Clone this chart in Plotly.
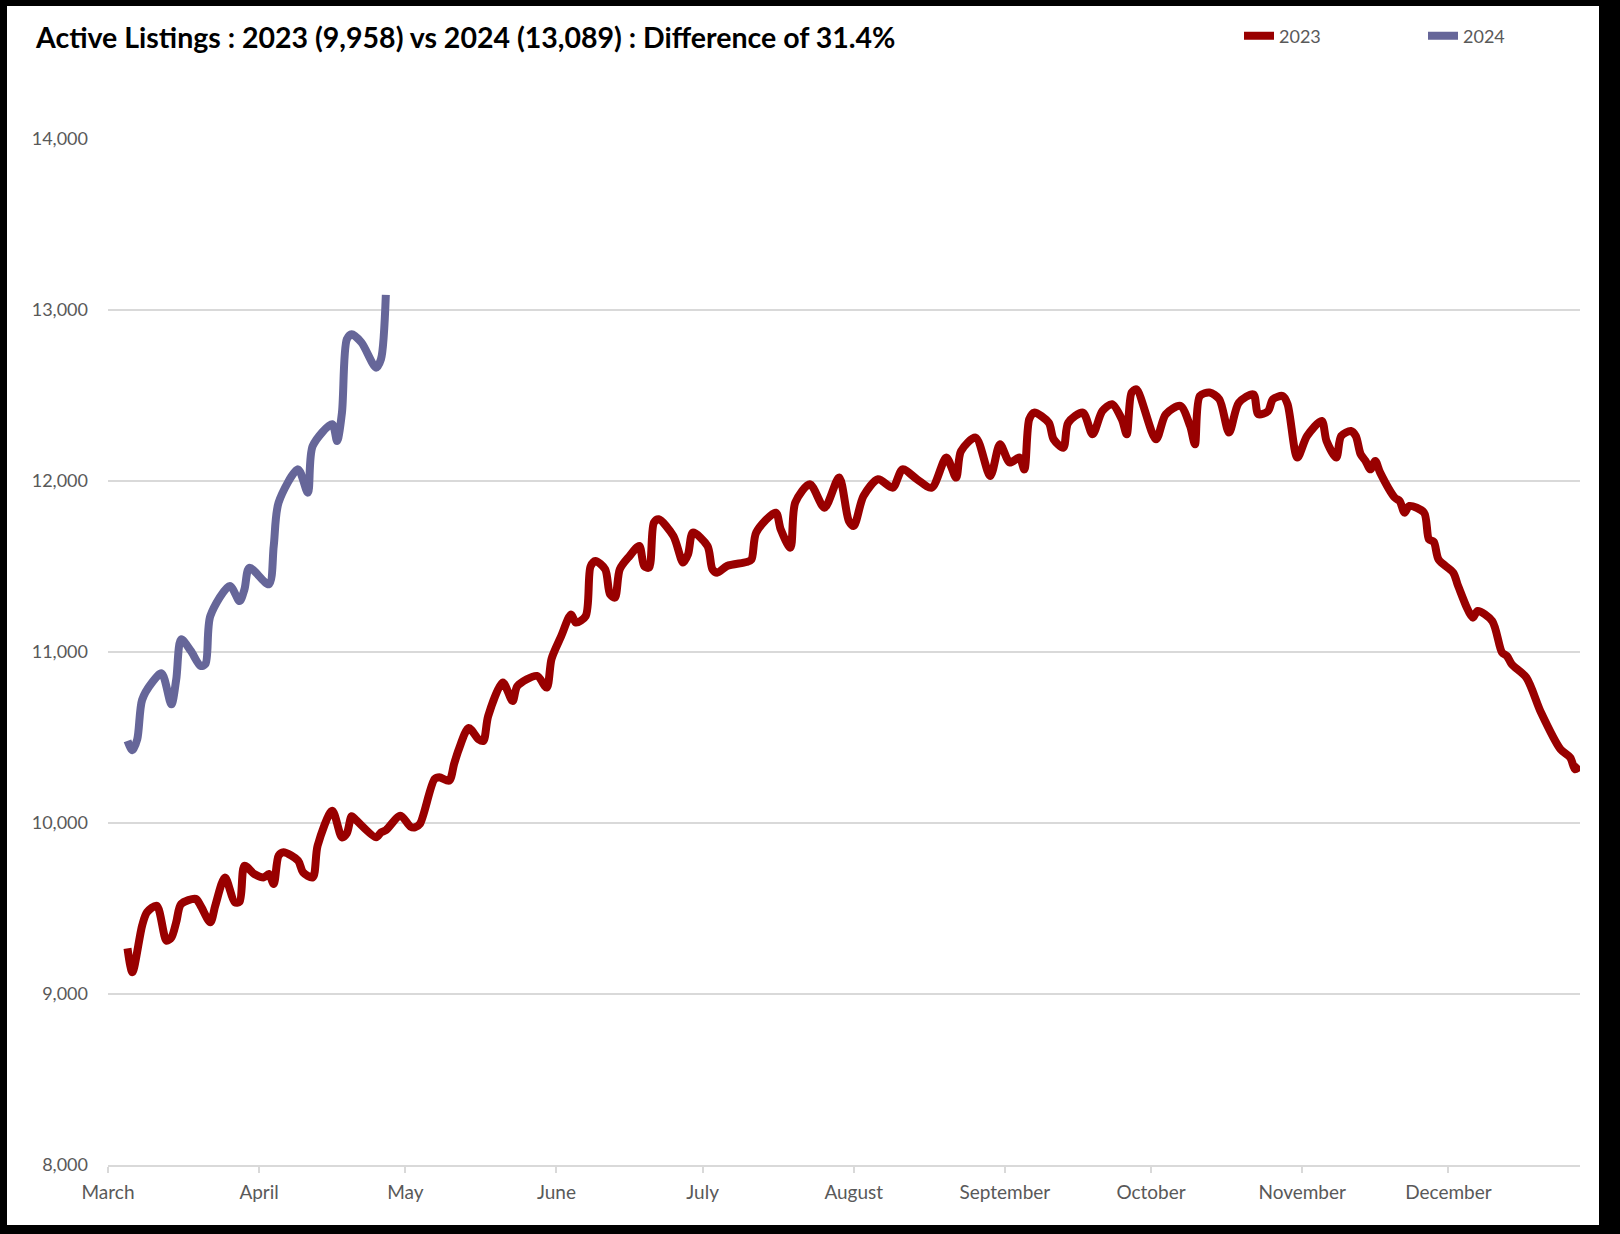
import plotly.graph_objects as go

# ---------------- data ----------------
dates_2023 = [
    "2023-03-05", "2023-03-06", "2023-03-08", "2023-03-09", "2023-03-11", "2023-03-13", "2023-03-14",
    "2023-03-15", "2023-03-16", "2023-03-19", "2023-03-20", "2023-03-22", "2023-03-23", "2023-03-25",
    "2023-03-27", "2023-03-28", "2023-03-29", "2023-03-31", "2023-04-02", "2023-04-03", "2023-04-04",
    "2023-04-05", "2023-04-06", "2023-04-09", "2023-04-10", "2023-04-12", "2023-04-13", "2023-04-16",
    "2023-04-18", "2023-04-19", "2023-04-20", "2023-04-21", "2023-04-25", "2023-04-26", "2023-04-27",
    "2023-04-30", "2023-05-02", "2023-05-03", "2023-05-04", "2023-05-07", "2023-05-08", "2023-05-10",
    "2023-05-11", "2023-05-12", "2023-05-14", "2023-05-16", "2023-05-17", "2023-05-18", "2023-05-21",
    "2023-05-23", "2023-05-24", "2023-05-28", "2023-05-30", "2023-05-31", "2023-06-02", "2023-06-04",
    "2023-06-05", "2023-06-07", "2023-06-08", "2023-06-09", "2023-06-11", "2023-06-12", "2023-06-13",
    "2023-06-14", "2023-06-16", "2023-06-18", "2023-06-19", "2023-06-20", "2023-06-21", "2023-06-22",
    "2023-06-25", "2023-06-27", "2023-06-28", "2023-06-29", "2023-07-02", "2023-07-03", "2023-07-04",
    "2023-07-06", "2023-07-10", "2023-07-11", "2023-07-12", "2023-07-16", "2023-07-17", "2023-07-19",
    "2023-07-20", "2023-07-23", "2023-07-26", "2023-07-29", "2023-07-31", "2023-08-01", "2023-08-03",
    "2023-08-06", "2023-08-09", "2023-08-11", "2023-08-14", "2023-08-17", "2023-08-20", "2023-08-22",
    "2023-08-23", "2023-08-26", "2023-08-29", "2023-08-31", "2023-09-02", "2023-09-04", "2023-09-05",
    "2023-09-06", "2023-09-07", "2023-09-10", "2023-09-11", "2023-09-13", "2023-09-14", "2023-09-17",
    "2023-09-19", "2023-09-21", "2023-09-23", "2023-09-25", "2023-09-26", "2023-09-27", "2023-09-28",
    "2023-10-02", "2023-10-04", "2023-10-07", "2023-10-09", "2023-10-10", "2023-10-11", "2023-10-13",
    "2023-10-15", "2023-10-17", "2023-10-19", "2023-10-22", "2023-10-23", "2023-10-25", "2023-10-26",
    "2023-10-28", "2023-10-29", "2023-10-31", "2023-11-02", "2023-11-05", "2023-11-06", "2023-11-08",
    "2023-11-09", "2023-11-11", "2023-11-12", "2023-11-13", "2023-11-14", "2023-11-15", "2023-11-16",
    "2023-11-17", "2023-11-20", "2023-11-21", "2023-11-22", "2023-11-23", "2023-11-26", "2023-11-27",
    "2023-11-28", "2023-11-29", "2023-12-02", "2023-12-03", "2023-12-06", "2023-12-07", "2023-12-10",
    "2023-12-12", "2023-12-13", "2023-12-14", "2023-12-17", "2023-12-20", "2023-12-24", "2023-12-26",
    "2023-12-27", "2023-12-28",
]
listings_2023 = [
    9267, 9127, 9400, 9478, 9516, 9312, 9330,
    9420, 9526, 9556, 9516, 9419, 9516, 9682,
    9536, 9540, 9750, 9702, 9682, 9702, 9643,
    9809, 9829, 9780, 9712, 9682, 9867, 10072,
    9916, 9940, 10040, 10014, 9916, 9945, 9958,
    10043, 9980, 9975, 9995, 10257, 10267, 10247,
    10345, 10433, 10556, 10490, 10480, 10626, 10821,
    10713, 10801, 10860, 10792, 10960, 11094, 11220,
    11172, 11210, 11500, 11532, 11484, 11337, 11318,
    11484, 11561, 11620, 11503, 11493, 11757, 11776,
    11678, 11523, 11571, 11698, 11620, 11484, 11464,
    11503, 11526, 11540, 11700, 11815, 11718, 11610,
    11874, 11981, 11844, 12020, 11766, 11737, 11912,
    12010, 11961, 12068, 12010, 11961, 12137, 12020,
    12175, 12254, 12029, 12215, 12108, 12137, 12068,
    12361, 12400, 12341, 12244, 12195, 12341, 12400,
    12273, 12409, 12449, 12361, 12273, 12517, 12536,
    12244, 12390, 12439, 12322, 12215, 12497, 12517,
    12478, 12283, 12458, 12507, 12390, 12409, 12478,
    12497, 12450, 12137, 12263, 12351, 12234, 12137,
    12263, 12292, 12263, 12156, 12117, 12068, 12117,
    12049, 11903, 11883, 11815, 11854, 11815, 11659,
    11645, 11540, 11464, 11386, 11201, 11240, 11181,
    10997, 10977, 10928, 10850, 10646, 10431, 10382,
    10314, 10333,
]

dates_2024 = [
    "2024-03-05", "2024-03-06", "2024-03-07", "2024-03-08", "2024-03-10", "2024-03-12", "2024-03-14",
    "2024-03-15", "2024-03-16", "2024-03-18", "2024-03-20", "2024-03-21", "2024-03-22", "2024-03-26",
    "2024-03-28", "2024-03-29", "2024-03-30", "2024-04-03", "2024-04-04", "2024-04-05", "2024-04-09",
    "2024-04-11", "2024-04-12", "2024-04-16", "2024-04-17", "2024-04-18", "2024-04-19", "2024-04-20",
    "2024-04-22", "2024-04-25", "2024-04-26", "2024-04-27",
]
listings_2024 = [
    10480, 10425, 10490, 10720, 10820, 10875, 10694,
    10840, 11074, 11006, 10918, 10930, 11211, 11386,
    11298, 11367, 11493, 11396, 11620, 11874, 12068,
    11932, 12205, 12332, 12234, 12400, 12829, 12858,
    12810, 12663, 12712, 13089,
]

series_names = ["2023", "2024"]
title_text = "Active Listings : 2023 (9,958) vs 2024 (13,089) : Difference of 31.4%"
y_ticks = [8000, 9000, 10000, 11000, 12000, 13000, 14000]
x_range = ["2023-03-01", "2023-12-28"]

# ---------------- layout geometry (pixels) ----------------
W, H = 1620, 1234
L, R, T, B = 108, 40, 139, 69
plot_w = W - L - R
plot_h = H - T - B


def px_x(px):
    return (px - L) / plot_w


def px_y(py):
    return (H - B - py) / plot_h


GRAY_TXT = "#595959"
GRID = "#D9D9D9"
FONT = "Lato, Carlito, Calibri, 'Open Sans', sans-serif"

fig = go.Figure()
fig.add_trace(go.Scatter(
    x=dates_2023, y=listings_2023, mode="lines", name=series_names[0],
    line=dict(color="#990000", width=8, shape="spline", smoothing=0.8),
))
# 2024 drawn on the same month/day axis
fig.add_trace(go.Scatter(
    x=[d.replace("2024-", "2023-", 1) for d in dates_2024], y=listings_2024,
    mode="lines", name=series_names[1],
    line=dict(color="#666699", width=8, shape="spline", smoothing=0.8),
))

# black frame around the chart
frame = [
    (0, 0, 7, H),
    (W - 21, 0, W, H),
    (0, 0, W, 6),
    (0, H - 9, W, H),
]
for x0, y0, x1, y1 in frame:
    fig.add_shape(type="rect", xref="paper", yref="paper",
                  x0=px_x(x0), x1=px_x(x1), y0=px_y(y1), y1=px_y(y0),
                  fillcolor="black", line=dict(width=0), layer="above")

fig.update_layout(
    width=W, height=H,
    margin=dict(l=L, r=R, t=T, b=B),
    paper_bgcolor="white", plot_bgcolor="white",
    font=dict(family=FONT, color=GRAY_TXT, size=19),
    title=dict(text=title_text, xref="container", yref="container",
               x=36 / W, xanchor="left", y=1 - 38 / H, yanchor="middle",
               font=dict(family=FONT, size=28.5, color="black", weight="bold")),
    showlegend=True,
    legend=dict(orientation="h", xref="container", yref="container",
                x=1239 / W, xanchor="left", y=1 - 36 / H, yanchor="middle",
                font=dict(size=18, color=GRAY_TXT),
                entrywidth=139, entrywidthmode="pixels",
                bgcolor="rgba(0,0,0,0)"),
    hovermode=False,
)
fig.update_xaxes(
    type="date", range=x_range, tick0="2023-03-01", dtick="M1", tickformat="%B",
    showgrid=False, showline=True, linecolor=GRID, linewidth=1.5,
    ticks="outside", ticklen=6, tickcolor=GRID, tickwidth=1.5,
    ticklabelstandoff=3,
    tickfont=dict(size=19, color=GRAY_TXT), zeroline=False,
)
fig.update_yaxes(
    range=[8000, 14000], tickvals=y_ticks, tickformat=",",
    showgrid=True, gridcolor=GRID, gridwidth=1.5, zeroline=False,
    showline=False, ticks="", ticklabelstandoff=19,
    tickfont=dict(size=18, color=GRAY_TXT),
)

fig.write_html(
    "out.html",
    config={"displayModeBar": False},
    post_script="document.body.style.margin='0';document.body.style.padding='0';",
)
